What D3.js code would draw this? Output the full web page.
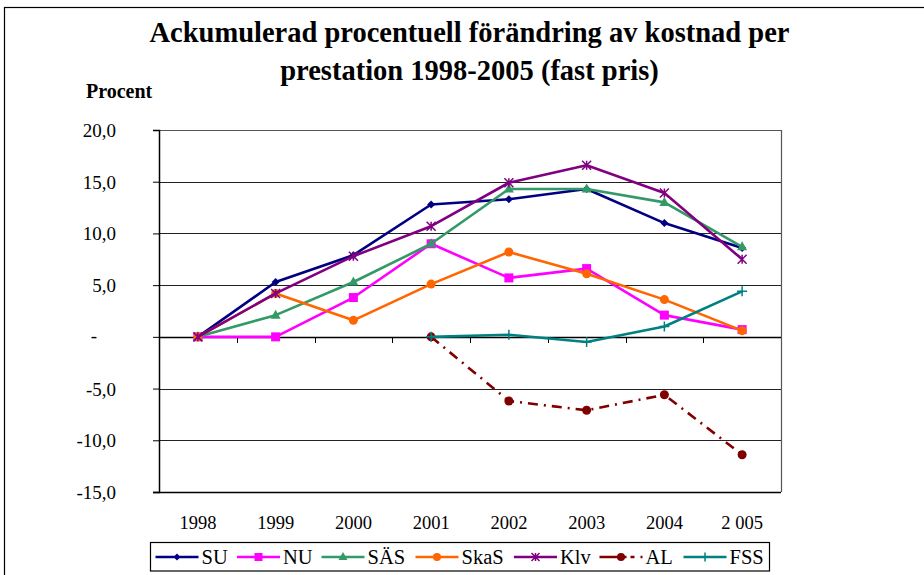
<!DOCTYPE html>
<html><head><meta charset="utf-8">
<script src="https://cdn.jsdelivr.net/npm/d3@7"></script>
<style>body{margin:0;background:#fff}</style>
</head><body><svg id="c" width="924" height="575" font-family="Liberation Serif"></svg>
<script>
const years = ["1998","1999","2000","2001","2002","2003","2004","2005"];
const yearLabels = ["1998","1999","2000","2001","2002","2003","2004","2 005"];
const yTicks = [-15,-10,-5,0,5,10,15,20];
const SU   = [0, 5.3, 7.9, 12.8, 13.3, 14.3, 11.0, 8.6];
const NU   = [0, 0.0, 3.8, 9.0, 5.7, 6.6, 2.1, 0.7];
const SAS  = [0, 2.1, 5.3, 9.0, 14.3, 14.3, 13.0, 8.7];
const SkaS = [0, 4.2, 1.6, 5.1, 8.2, 6.1, 3.6, 0.6];
const Klv  = [0, 4.2, 7.8, 10.7, 14.9, 16.6, 13.9, 7.5];
const AL   = [null, null, null, 0, -6.2, -7.1, -5.6, -11.4];
const FSS  = [null, null, null, 0, 0.2, -0.5, 1.0, 4.4];
const seriesNames = ["SU","NU","SÄS","SkaS","Klv","AL","FSS"];
const seriesData = [SU, NU, SAS, SkaS, Klv, AL, FSS];
const colors = ["#000080","#FF00FF","#339966","#FF6600","#800080","#800000","#008080"];
const markers = ["diamond","square","triangle","circle","asterisk","circle","plus"];

const FONT = "Liberation Serif";
const svg = d3.select("#c");
const L=159, R=781, T=130, B=492;
const x = d3.scaleBand().domain(years).range([L,R]).padding(0);
const y = d3.scaleLinear().domain([-15,20]).range([B,T]);
const cx = d => x(d) + x.bandwidth()/2;

// outer frame
svg.append("rect").attr("x",4.5).attr("y",7.5).attr("width",960).attr("height",620)
  .attr("fill","none").attr("stroke","#000").attr("stroke-width",1.2);

// title
const title = svg.append("text").attr("text-anchor","middle").attr("font-family",FONT)
  .attr("font-weight","bold").attr("font-size",28.5).attr("fill","#000");
title.append("tspan").attr("x",469.5).attr("y",41.5).text("Ackumulerad procentuell förändring av kostnad per");
title.append("tspan").attr("x",469.5).attr("y",79.5).text("prestation 1998-2005 (fast pris)");
svg.append("text").attr("x",86).attr("y",97.5).attr("font-family",FONT).attr("font-weight","bold").attr("font-size",20).text("Procent");

// gridlines
svg.append("g").selectAll("line").data(yTicks.filter(v=>v>-15 && v<20)).join("line")
  .attr("x1",L).attr("x2",R).attr("y1",d=>Math.round(y(d))+0.5).attr("y2",d=>Math.round(y(d))+0.5)
  .attr("stroke","#222").attr("stroke-width",1);
// plot border top/right
svg.append("path").attr("d",`M${L},${Math.round(T)+0.5}H${R+0.5}V${Math.round(B)}`)
  .attr("fill","none").attr("stroke","#555").attr("stroke-width",1.2);

// y axis
const yAxis = d3.axisLeft(y).tickValues(yTicks).tickSize(6).tickPadding(37)
  .tickFormat(d => d===0 ? "" : d3.format(".1f")(d).replace(".",",").replace("−","-"));
const gy = svg.append("g").attr("transform",`translate(${L},0)`).call(yAxis).attr("font-family",FONT);
gy.select(".domain").attr("stroke","#000").attr("stroke-width",1.5);
gy.selectAll(".tick line").attr("stroke","#000");
gy.selectAll(".tick text").attr("font-family",FONT).attr("font-size",19).attr("fill","#000").attr("dy","0.34em");
svg.append("text").attr("x",94).attr("y",y(0)+5).attr("font-family",FONT).attr("text-anchor","middle").attr("font-size",19).text("-");

// x axis at zero line
const xBounds = d3.range(years.length+1).map(i => L + i*x.bandwidth());
svg.append("g").selectAll("line").data(xBounds.slice(1,-1)).join("line")
  .attr("x1",d=>Math.round(d)+0.5).attr("x2",d=>Math.round(d)+0.5)
  .attr("y1",Math.round(y(0))).attr("y2",Math.round(y(0))+6).attr("stroke","#000");
svg.append("line").attr("x1",L).attr("x2",R).attr("y1",Math.round(y(0))+0.5).attr("y2",Math.round(y(0))+0.5)
  .attr("stroke","#000").attr("stroke-width",1.3);
// bottom axis line
svg.append("line").attr("x1",L-6).attr("x2",R).attr("y1",Math.round(B)+0.5).attr("y2",Math.round(B)+0.5)
  .attr("stroke","#000").attr("stroke-width",1.5);
// x labels
svg.append("g").selectAll("text").data(years).join("text")
  .attr("x",d=>cx(d)).attr("y",528.5).attr("text-anchor","middle").attr("font-size",18.5).attr("font-family",FONT)
  .text((d,i)=>yearLabels[i]);

// markers
function drawMarker(g, type, color, px, py, s) {
  if (type==="diamond") g.append("path").attr("d",`M${px},${py-s}L${px+s},${py}L${px},${py+s}L${px-s},${py}Z`).attr("fill",color);
  else if (type==="square") g.append("rect").attr("x",px-s).attr("y",py-s).attr("width",2*s).attr("height",2*s).attr("fill",color);
  else if (type==="triangle") g.append("path").attr("d",`M${px},${py-s-1}L${px+s+0.5},${py+s-1}L${px-s-0.5},${py+s-1}Z`).attr("fill",color);
  else if (type==="circle") g.append("circle").attr("cx",px).attr("cy",py).attr("r",s).attr("fill",color);
  else if (type==="asterisk") g.append("path").attr("d",`M${px-s},${py-s}L${px+s},${py+s}M${px-s},${py+s}L${px+s},${py-s}M${px},${py-s}V${py+s}`).attr("stroke",color).attr("stroke-width",1.5);
  else if (type==="plus") g.append("path").attr("d",`M${px-s},${py}H${px+s}M${px},${py-s}V${py+s}`).attr("stroke",color).attr("stroke-width",1.5);
}
const msize = [4,4.5,4.5,4.5,4.5,4.5,5];

seriesData.forEach((vals,si)=>{
  const pts = years.map((yr,i)=>({yr, v: vals[i]})).filter(p=>p.v!==null);
  const line = d3.line().x(p=>cx(p.yr)).y(p=>y(p.v));
  const g = svg.append("g");
  g.append("path").attr("d",line(pts)).attr("fill","none").attr("stroke",colors[si])
    .attr("stroke-width",2.6).attr("stroke-linejoin","round")
    .attr("stroke-dasharray", seriesNames[si]==="AL" ? "10,6,2,6" : null);
  pts.forEach(p=>drawMarker(g, markers[si], colors[si], cx(p.yr), y(p.v), msize[si]));
});

// legend
const lg = svg.append("g");
lg.append("rect").attr("x",150.5).attr("y",542.5).attr("width",619).attr("height",28.5)
  .attr("fill","#fff").attr("stroke","#000").attr("stroke-width",1.2);
const legX = [155.5, 237, 321.5, 415.5, 514, 599.5, 683.5];
seriesNames.forEach((n,si)=>{
  const x0 = legX[si], ly = 557;
  const g = lg.append("g");
  g.append("path").attr("d",`M${x0},${ly}H${x0+43}`).attr("stroke",colors[si]).attr("stroke-width",2.6)
    .attr("stroke-dasharray", n==="AL" ? "27,4,4,6,2,12" : null);
  drawMarker(g, markers[si], colors[si], x0+21.5, ly, msize[si]-0.5);
  g.append("text").attr("x",x0+46).attr("y",ly+7).attr("font-size",20.5).attr("font-family",FONT).text(n);
});
</script></body></html>
